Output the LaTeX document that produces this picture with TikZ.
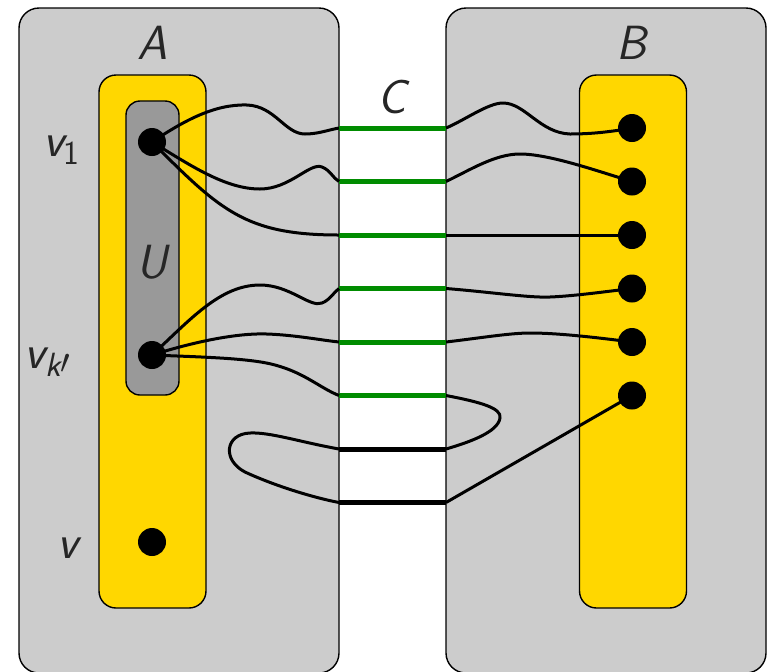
\documentclass[tikz,border=0pt]{standalone}
\usepackage{fontspec}
\usetikzlibrary{positioning, calc}
\definecolor{boxgray}{HTML}{CCCCCC}
\definecolor{ugray}{HTML}{999999}
\definecolor{setyellow}{HTML}{FFD700}
\definecolor{matchgreen}{HTML}{008C00}
\tikzset{
	sidebox/.style={rectangle, draw=black, fill=boxgray, rounded corners=10pt,
		line width=0.7pt, minimum width=160pt, minimum height=332.5pt},
	setbox/.style={rectangle, draw=black, fill=setyellow, rounded corners=8.5pt,
		line width=0.7pt, minimum width=53.5pt, minimum height=266.5pt},
	ubox/.style={rectangle, draw=black, fill=ugray, rounded corners=7pt,
		line width=0.7pt, minimum width=26.5pt, minimum height=147pt},
	vdot/.style={circle, fill=black, inner sep=0pt, minimum size=14pt},
	wire/.style={line width=1.5pt, draw=black},
	matchedge/.style={line width=2.5pt, draw=matchgreen},
	freeedge/.style={line width=2.5pt, draw=black},
	setlabel/.style={font=\fontsize{24}{28}\selectfont\sffamily\itshape,
		text=black!85, inner sep=0pt}
}

\begin{document}
\begin{tikzpicture}[x=0.5pt, y=-0.5pt]
	\useasboundingbox (0,0) rectangle (771,671);
	% the two sides
	\node[sidebox] (sideA) at (179,340.5) {};
	\node[sidebox] (sideB) at (606,340.5) {};
	\node[setbox] (setA) at (152.5,341.5) {};
	\node[setbox] (setB) at (633,341.5) {};
	\node[ubox] (setU) at (152.5,248) {};
	% ends of the cut edges
	\foreach \i in {1,...,8} {
		\coordinate (cL\i) at (339,{128+53.5*(\i-1)});
		\coordinate (cR\i) at (446,{128+53.5*(\i-1)});
	}
	\foreach \i in {1,...,6}
		\draw[matchedge] (cL\i) -- (cR\i);
	\foreach \i in {7,8}
		\draw[freeedge] (cL\i) -- (cR\i);
	% vertices
	\node[vdot] (v1) at (152,142) {};
	\node[vdot] (vk) at (152,355) {};
	\node[vdot] (v) at (152,542) {};
	\foreach \i in {1,...,6}
		\node[vdot] (b\i) at (632,{128+53.5*(\i-1)}) {};
	% paths on side A
	\draw[wire] (v1.center) .. controls (185,120) and (215,104) .. (247,105)
		.. controls (275,106) and (285,134) .. (305,134)
		.. controls (318,134) and (328,130) .. (cL1);
	\draw[wire] (v1.center) .. controls (190,165) and (225,189) .. (260,189)
		.. controls (290,189) and (310,162) .. (322,167)
		.. controls (330,170) and (333,178) .. (cL2);
	\draw[wire] (v1.center) .. controls (220,210) and (245,235) .. (cL3);
	\draw[wire] (vk.center) .. controls (190,320) and (220,285) .. (260,285)
		.. controls (290,285) and (310,308) .. (322,303)
		.. controls (330,300) and (334,292) .. (cL4);
	\draw[wire] (vk.center) .. controls (200,340) and (240,333) .. (267,334)
		.. controls (295,335) and (320,340) .. (cL5);
	\draw[wire] (vk.center) .. controls (200,357) and (250,358) .. (275,365)
		.. controls (305,373) and (320,388) .. (cL6);
	\draw[wire] (cL7) .. controls (300,442) and (270,432) .. (250,433)
		.. controls (225,434) and (222,460) .. (245,472)
		.. controls (275,486) and (315,498) .. (cL8);
	% paths on side B
	\draw[wire] (cR1) .. controls (465,120) and (488,103) .. (503,103)
		.. controls (525,103) and (540,133) .. (570,134)
		.. controls (595,134) and (615,131) .. (b1.center);
	\draw[wire] (cR2) .. controls (470,170) and (495,154) .. (520,154)
		.. controls (550,154) and (600,172) .. (b2.center);
	\draw[wire] (cR3) -- (b3.center);
	\draw[wire] (cR4) .. controls (490,292) and (530,298) .. (550,297)
		.. controls (575,296) and (610,291) .. (b4.center);
	\draw[wire] (cR5) .. controls (480,338) and (510,333) .. (530,333)
		.. controls (560,333) and (600,338) .. (b5.center);
	\draw[wire] (cR6) .. controls (480,402) and (502,408) .. (500,418)
		.. controls (498,432) and (470,442) .. (cR7);
	\draw[wire] (cR8) -- (b6.center);
	% labels
	\node[setlabel] (labA) at (152,43) {A};
	\node[setlabel] (labB) at (632,43) {B};
	\node[setlabel] (labC) at (392,97) {C};
	\node[setlabel] (labU) at (152,262) {U};
	\node[setlabel] (labv1) at (62,150) {v\textsubscript{\upshape 1}};
	\node[setlabel] (labvk) at (48,362) {v\textsubscript{k\raisebox{0.2ex}{$\prime$}}};
	\node[setlabel] (labv) at (68,548) {v};
\end{tikzpicture}
\end{document}
